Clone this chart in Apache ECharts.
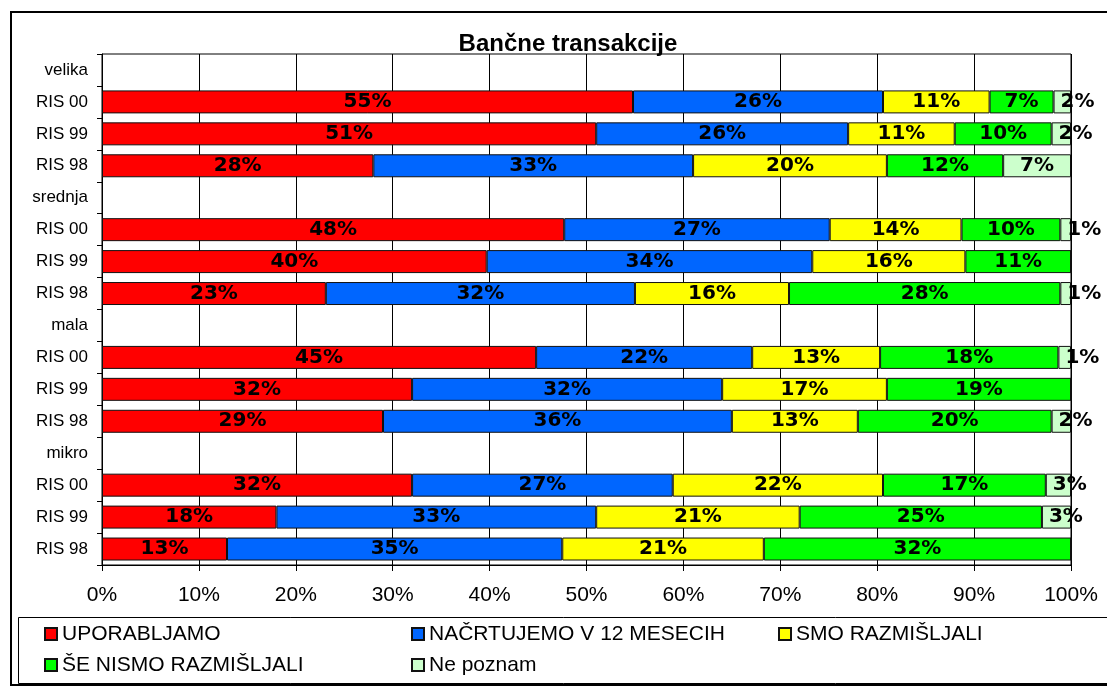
<!DOCTYPE html>
<html>
<head>
<meta charset="utf-8">
<script src="https://cdn.jsdelivr.net/npm/echarts@6/dist/echarts.min.js"></script>
<style>
  html, body { margin: 0; padding: 0; background: #fff; }
  #main { width: 1107px; height: 688px; }
</style>
</head>
<body>
<div id="main"></div>
<script>
// kategorije (od zgoraj navzdol)
var categories = ['velika', 'RIS 00', 'RIS 99', 'RIS 98',
  'srednja', 'RIS 00', 'RIS 99', 'RIS 98',
  'mala', 'RIS 00', 'RIS 99', 'RIS 98',
  'mikro', 'RIS 00', 'RIS 99', 'RIS 98'];

// deleži v % (vrstice z imenom skupine so prazne)
var uporabljamo = [null, 54.8, 51.0, 28.0, null, 47.7, 39.7, 23.1, null, 44.8, 32.0, 29.0, null, 32.0, 18.0, 12.9];
var nacrtujemo = [null, 25.8, 26.0, 33.0, null, 27.4, 33.6, 31.9, null, 22.3, 32.0, 36.0, null, 26.9, 33.0, 34.6];
var smoRazmisljali = [null, 11.0, 11.0, 20.0, null, 13.6, 15.8, 15.9, null, 13.2, 17.0, 13.0, null, 21.7, 21.0, 20.8];
var seNismo = [null, 6.6, 10.0, 12.0, null, 10.2, 10.9, 28.0, null, 18.4, 19.0, 20.0, null, 16.8, 25.0, 31.7];
var nePoznam = [null, 1.8, 2.0, 7.0, null, 1.1, 0, 1.1, null, 1.3, 0, 2.0, null, 2.6, 3.0, 0];

var xTicks = [0, 10, 20, 30, 40, 50, 60, 70, 80, 90, 100];

var seriesNames = ['UPORABLJAMO', 'NAČRTUJEMO V 12 MESECIH', 'SMO RAZMIŠLJALI', 'ŠE NISMO RAZMIŠLJALI', 'Ne poznam'];
var seriesData = [uporabljamo, nacrtujemo, smoRazmisljali, seNismo, nePoznam];
var colors = ['#ff0000', '#0066ff', '#ffff00', '#00ff00', '#ccffcc'];

var chart = echarts.init(document.getElementById('main'));

function pctLabel(p) {
  if (p.value == null || p.value === 0) return '';
  return Math.round(p.value) + '%';
}

var series = seriesData.map(function (arr, i) {
  return {
    name: seriesNames[i],
    type: 'bar',
    stack: 'total',
    barCategoryGap: '28%',
    itemStyle: { color: colors[i], borderColor: '#111', borderWidth: 1 },
    label: {
      show: true,
      position: 'inside',
      formatter: pctLabel,
      color: '#000',
      fontFamily: 'DejaVu Sans',
      fontWeight: 'bold',
      fontSize: 20
    },
    // majhni deleži zadnje serije: napis se začne ob levem robu
    data: arr.map(function (v) {
      if (i === 4 && v != null && v > 0 && v < 5) {
        return { value: v, label: { position: 'insideLeft', distance: 7 } };
      }
      return v;
    })
  };
});

var option = {
  backgroundColor: '#fff',
  animation: false,
  color: colors,
  title: {
    text: 'Bančne transakcije',
    left: 563,
    top: 27,
    textAlign: 'center',
    textStyle: { fontFamily: 'Liberation Sans', fontWeight: 'bold', fontSize: 24, color: '#000' }
  },
  grid: {
    left: 102,
    right: 36,
    top: 54,
    bottom: 123,
    show: true,
    borderColor: '#000',
    borderWidth: 1
  },
  legend: {
    left: 44,
    top: 623,
    width: 1100,
    padding: 0,
    itemWidth: 12,
    itemHeight: 12,
    itemGap: 9,
    icon: 'rect',
    selectedMode: false,
    textStyle: {
      fontFamily: 'Liberation Sans',
      fontSize: 21,
      color: '#000',
      width: 340,
      lineHeight: 22
    },
    data: seriesNames
  },
  xAxis: {
    type: 'value',
    min: xTicks[0],
    max: xTicks[xTicks.length - 1],
    interval: 10,
    axisLine: { show: true, lineStyle: { color: '#000' } },
    axisTick: { show: true, length: 6, lineStyle: { color: '#000' } },
    splitLine: { show: true, lineStyle: { color: '#000', width: 1 } },
    axisLabel: {
      formatter: '{value}%',
      margin: 20,
      fontFamily: 'Liberation Sans',
      fontSize: 21,
      color: '#000'
    }
  },
  yAxis: {
    type: 'category',
    inverse: true,
    data: categories,
    axisLine: { show: true, lineStyle: { color: '#000' } },
    axisTick: { show: true, length: 5, lineStyle: { color: '#000' } },
    axisLabel: {
      margin: 14,
      fontFamily: 'Liberation Sans',
      fontSize: 17,
      color: '#000'
    }
  },
  graphic: [
    {
      type: 'rect',
      shape: { x: 11, y: 12, width: 1110, height: 673 },
      style: { fill: null, stroke: '#000', lineWidth: 2 },
      silent: true
    },
    {
      type: 'rect',
      shape: { x: 18.5, y: 617.5, width: 1100, height: 66 },
      style: { fill: null, stroke: '#000', lineWidth: 1 },
      silent: true
    }
  ],
  series: series
};

chart.setOption(option);
</script>
</body>
</html>
